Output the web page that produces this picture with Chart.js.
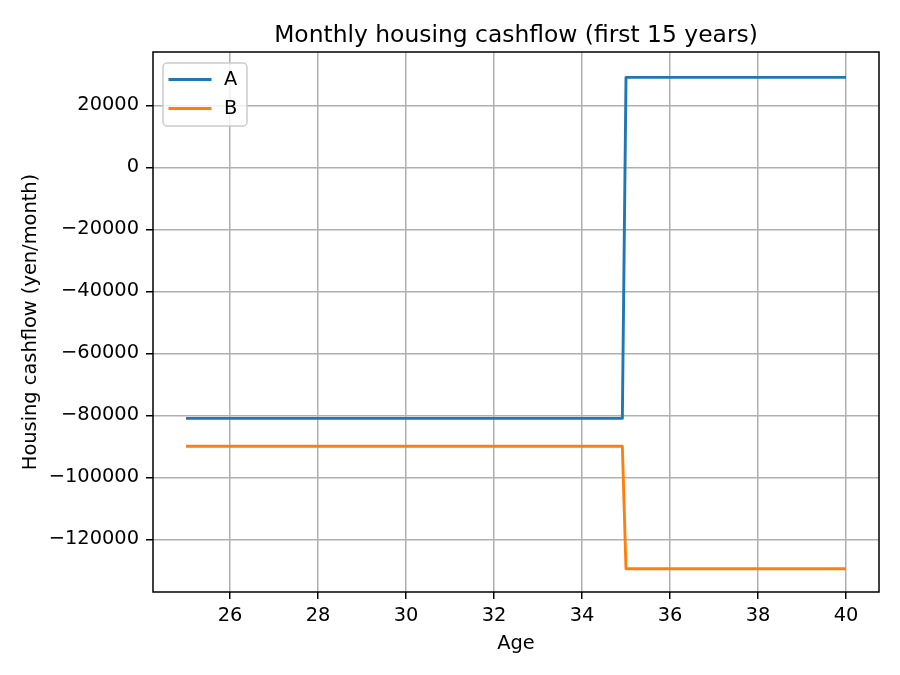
<!DOCTYPE html>
<html>
<head>
<meta charset="utf-8">
<script src="https://cdn.jsdelivr.net/npm/chart.js@4/dist/chart.umd.min.js"></script>
<style>
  body { margin: 0; background: #fff; }
  #wrap { width: 900px; height: 675px; }
</style>
</head>
<body>
<div id="wrap"><canvas id="cashChart" width="900" height="675"></canvas></div>
<script>
const ages = [25, 34.917, 35, 40];
const seriesA = [-81000, -81000, 29000, 29000];
const seriesB = [-90000, -90000, -129500, -129500];
const xTicks = [26, 28, 30, 32, 34, 36, 38, 40];
const yTicks = [-120000, -100000, -80000, -60000, -40000, -20000, 0, 20000];

const FONT = "'DejaVu Sans', 'Liberation Sans', sans-serif";

function toPoints(ys) {
    return ages.map((a, i) => ({ x: a, y: ys[i] }));
}

// title, frame and legend the matplotlib way
const mplExtras = {
    id: 'mplExtras',
    afterDraw(chart) {
        const ctx = chart.ctx;
        const area = chart.chartArea;
        ctx.save();

        // frame on all four sides
        ctx.strokeStyle = '#000';
        ctx.lineWidth = 1.5;
        ctx.strokeRect(area.left, area.top, area.right - area.left, area.bottom - area.top);

        // title
        ctx.fillStyle = '#000';
        ctx.font = '23.4px ' + FONT;
        ctx.textAlign = 'center';
        ctx.textBaseline = 'alphabetic';
        ctx.fillText('Monthly housing cashflow (first 15 years)', (area.left + area.right) / 2, 41.5);

        // legend box
        const bx = area.left + 10, by = area.top + 11, bw = 84, bh = 63, r = 4;
        ctx.beginPath();
        ctx.moveTo(bx + r, by);
        ctx.arcTo(bx + bw, by, bx + bw, by + bh, r);
        ctx.arcTo(bx + bw, by + bh, bx, by + bh, r);
        ctx.arcTo(bx, by + bh, bx, by, r);
        ctx.arcTo(bx, by, bx + bw, by, r);
        ctx.closePath();
        ctx.fillStyle = 'rgba(255,255,255,0.8)';
        ctx.fill();
        ctx.strokeStyle = '#cccccc';
        ctx.lineWidth = 1.5;
        ctx.stroke();

        ctx.font = '19.4px ' + FONT;
        ctx.textAlign = 'left';
        ctx.textBaseline = 'middle';
        chart.data.datasets.forEach((ds, i) => {
            const y = by + 16.5 + i * 29;
            ctx.strokeStyle = ds.borderColor;
            ctx.lineWidth = ds.borderWidth;
            ctx.beginPath();
            ctx.moveTo(bx + 5.5, y);
            ctx.lineTo(bx + 48.5, y);
            ctx.stroke();
            ctx.fillStyle = '#000';
            ctx.fillText(ds.label, bx + 61, y);
        });
        ctx.restore();
    }
};

function fmt(v) {
    return v < 0 ? '\u2212' + Math.abs(v) : String(v);
}

new Chart(document.getElementById('cashChart').getContext('2d'), {
    type: 'line',
    data: {
        datasets: [
            { label: 'A', data: toPoints(seriesA), borderColor: '#1f77b4', borderWidth: 2.9 },
            { label: 'B', data: toPoints(seriesB), borderColor: '#ff7f0e', borderWidth: 2.9 }
        ]
    },
    options: {
        responsive: false,
        animation: false,
        layout: { padding: { top: 52, right: 21, left: 0, bottom: 0 } },
        elements: {
            point: { radius: 0 },
            line: { tension: 0, fill: false, borderJoinStyle: 'round' }
        },
        plugins: {
            legend: { display: false },
            title: { display: false },
            tooltip: { enabled: false }
        },
        scales: {
            x: {
                type: 'linear',
                min: 24.25,
                max: 40.75,
                afterFit: (s) => { s.height = 83; },
                afterBuildTicks: (s) => { s.ticks = xTicks.map(v => ({ value: v })); },
                grid: { color: '#b0b0b0', lineWidth: 1.5, tickColor: '#000', tickWidth: 1.5, tickLength: 7 },
                border: { display: false },
                ticks: { color: '#000', font: { family: FONT, size: 19.4 }, padding: 5, maxRotation: 0, callback: (v) => String(v) },
                title: { display: true, text: 'Age', color: '#000', font: { family: FONT, size: 19.4, lineHeight: 1.2 }, padding: { top: 0, bottom: 19.5 } }
            },
            y: {
                min: -137000,
                max: 37200,
                afterFit: (s) => { s.width = 153; },
                afterBuildTicks: (s) => { s.ticks = yTicks.map(v => ({ value: v })); },
                grid: { color: '#b0b0b0', lineWidth: 1.5, tickColor: '#000', tickWidth: 1.5, tickLength: 7 },
                border: { display: false },
                ticks: { color: '#000', font: { family: FONT, size: 19.4 }, padding: 7, callback: (v) => fmt(v) },
                title: { display: true, text: 'Housing cashflow (yen/month)', color: '#000', font: { family: FONT, size: 19.4, lineHeight: 1.2 }, padding: { top: 19, bottom: 0 } }
            }
        }
    },
    plugins: [mplExtras]
});
</script>
</body>
</html>
